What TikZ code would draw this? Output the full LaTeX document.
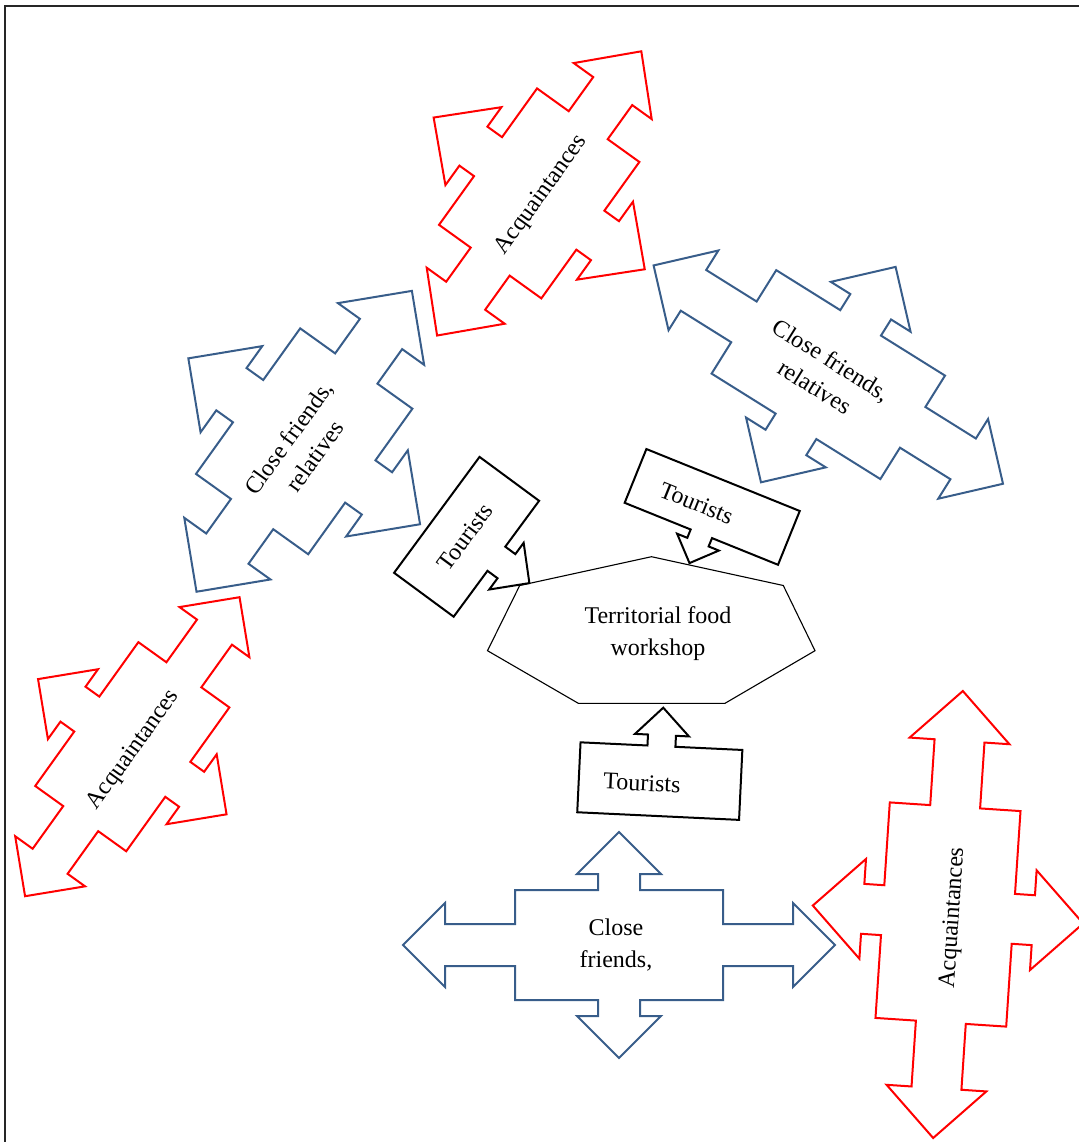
\documentclass[tikz,border=0pt]{standalone}
\usepackage{fontspec}
\setmainfont{Liberation Serif}
\definecolor{closeblue}{HTML}{385D8A}
\tikzset{%
  acq/.style   = {draw=red, line width=1pt, line join=miter}, % Acquaintances
  close/.style = {draw=closeblue, line width=1pt, line join=miter}, % Close friends
  tour/.style  = {draw=black, line width=1pt, line join=miter}, % Tourists
  hept/.style  = {draw=black, line width=0.55pt},
  frame/.style = {draw=black!85, line width=0.65pt},
  txt/.style   = {inner sep=0pt, align=center,
    font=\fontsize{12pt}{15.8pt}\selectfont}
}
% style, tip x, tip y, body x, body y, shaft, head, head length
\newcommand{\quadarrow}[8]{%
  \draw[#1] (#2,0) -- (#2-#8,#7) -- (#2-#8,#6) -- (#4,#6) -- (#4,#5) -- (#6,#5)
    -- (#6,#3-#8) -- (#7,#3-#8) -- (0,#3) -- (-#7,#3-#8) -- (-#6,#3-#8) -- (-#6,#5)
    -- (-#4,#5) -- (-#4,#6) -- (-#2+#8,#6) -- (-#2+#8,#7) -- (-#2,0)
    -- (-#2+#8,-#7) -- (-#2+#8,-#6) -- (-#4,-#6) -- (-#4,-#5) -- (-#6,-#5)
    -- (-#6,-#3+#8) -- (-#7,-#3+#8) -- (0,-#3) -- (#7,-#3+#8) -- (#6,-#3+#8)
    -- (#6,-#5) -- (#4,-#5) -- (#4,-#6) -- (#2-#8,-#6) -- (#2-#8,-#7) -- cycle;}
% style, half width, half height, shaft, head, head base, tip
\newcommand{\callout}[7]{%
  \draw[#1] (-#2,-#3) -- (#2,-#3) -- (#2,#3) -- (#4,#3) -- (#4,#6) -- (#5,#6)
    -- (0,#7) -- (-#5,#6) -- (-#4,#6) -- (-#4,#3) -- (-#2,#3) -- cycle;}
\begin{document}
\begin{tikzpicture}[x=0.5pt, y=-0.5pt]
\useasboundingbox (0,0) rectangle (1079,1142);
\draw[frame] (5,1142) -- (5,6) -- (1079,6);

% quad arrows
\begin{scope}[shift={(539.2,193.4)}, rotate=54.3, transform shape]
  \quadarrow{acq}{175}{130}{84}{63}{24}{48}{49}
  \node[txt] (acqtop) at (0,3) {Acquaintances};
\end{scope}
\begin{scope}[shift={(304.2,441.3)}, rotate=54.4, transform shape]
  \quadarrow{close}{185}{142.5}{89.5}{69}{26}{53}{53}
  \node[txt] (closeleft) at (-6,1) {Close friends,\\relatives};
\end{scope}
\begin{scope}[shift={(828.3,374.6)}, rotate=-32, transform shape]
  \quadarrow{close}{206}{127}{99.5}{61}{24}{47}{47}
  \node[txt] (closeright) at (-5,1.5) {Close friends,\\relatives};
\end{scope}
\begin{scope}[shift={(132.3,746.7)}, rotate=54.35, transform shape]
  \quadarrow{acq}{184}{116}{88.5}{56}{21.5}{43}{43}
  \node[txt] (acqleft) at (-2,3) {Acquaintances};
\end{scope}
\begin{scope}[shift={(619,945)}]
  \quadarrow{close}{216}{113}{104}{55}{21}{42}{42}
  \node[txt] (closebottom) at (-3,0) {Close\\friends,};
\end{scope}
\begin{scope}[shift={(948,914.5)}, rotate=86.2, transform shape]
  \quadarrow{acq}{224}{135.5}{108}{65.5}{25}{50}{50}
  \node[txt] (acqright) at (-3,5.5) {Acquaintances};
\end{scope}

% workshop
\draw[hept] (651.5,556.7) -- (783.3,585.5) -- (815,650.7) -- (725,703.3)
  -- (578.3,703.3) -- (487.5,650.7) -- (519.7,585.5) -- cycle;
\node[txt] (workshop) at (658,633.5) {Territorial food\\workshop};

% tourists
\begin{scope}[shift={(466.6,536.8)}, rotate=53.6, transform shape]
  \callout{tour}{72}{37}{15}{29}{49.5}{78}
  \node[txt] (tourleft) at (-1,-1) {Tourists};
\end{scope}
\begin{scope}[shift={(712.2,506.9)}, rotate=-22, transform shape]
  \callout{tour}{82.7}{29}{11.5}{22.5}{38}{60.6}
  \node[txt] (tourright) at (-16,2.5) {Tourists};
\end{scope}
\begin{scope}[shift={(659.8,781.1)}, rotate=-2.7, transform shape]
  \callout{tour, yscale=-1}{81}{35}{14}{27}{46}{73.5}
  \node[txt] (tourbottom) at (-17.7,2.7) {Tourists};
\end{scope}
\end{tikzpicture}
\end{document}
